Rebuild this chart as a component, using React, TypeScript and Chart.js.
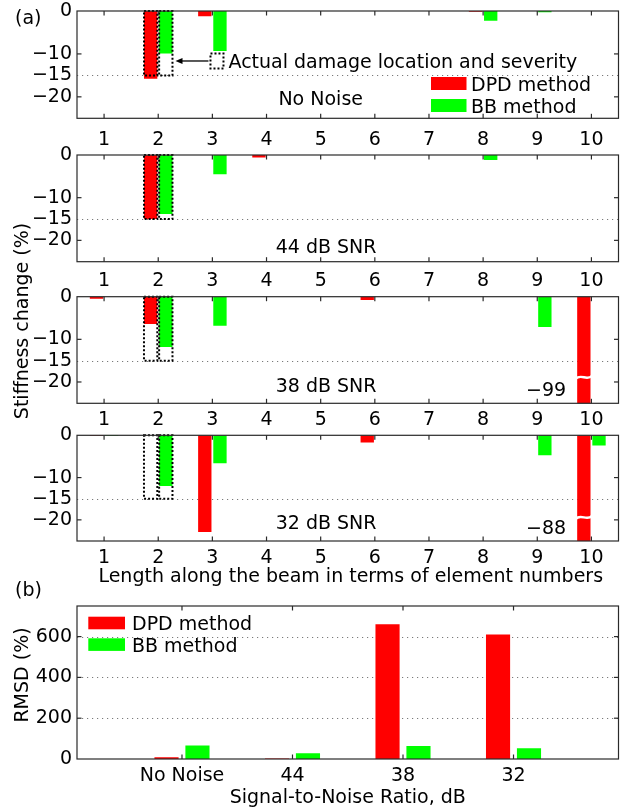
import React, { useEffect, useRef } from 'react';
import { Chart, registerables } from 'chart.js';

Chart.register(...registerables);

// ---------- data ----------
const elements = ['1', '2', '3', '4', '5', '6', '7', '8', '9', '10'];
const stiffnessTicks = [-20, -15, -10, 0];
const stiffnessGrid = [-15];

const dpdNoNoise = [0, -15.8, -1.2, 0, 0, 0, 0, -0.2, 0, 0];
const bbNoNoise = [0, -9.9, -9.3, 0, 0, 0, 0, -2.3, -0.3, 0];
const dpd44 = [0, -15, 0, -0.6, 0, 0, 0, 0, 0, 0];
const bb44 = [0, -13.8, -4.5, 0, 0, 0, 0, -1.2, 0, 0];
const dpd38 = [-0.5, -6.4, 0, 0, 0, -0.8, 0, 0, 0, -99];
const bb38 = [0, -11.8, -6.8, 0, 0, 0, 0, 0, -7.1, 0];
const dpd32 = [-0.15, 0, -22.9, 0, 0, -1.7, 0, 0, 0, -88];
const bb32 = [-0.15, -12.0, -6.6, 0, 0, 0, 0, 0, -4.7, -2.4];
const actualDamage = [0, -15, 0, 0, 0, 0, 0, 0, 0, 0];

const snrLabels = ['No Noise', '44', '38', '32'];
const rmsdDpd = [8, 3, 661, 610];
const rmsdBb = [66, 28, 64, 53];
const rmsdTicks = [0, 200, 400, 600];
const rmsdGrid = [200, 400, 600];

// ---------- layout / style ----------
const W = 621;
const H = 810;
const PLOT_LEFT = 77;
const PLOT_RIGHT = 618.5;
const XAXIS_H = 40;
const FONT = "'DejaVu Sans', sans-serif";
const FS = 19;
const RED = '#ff0000';
const GREEN = '#00ff00';

const panels = [
  { name: 'No Noise', dpd: dpdNoNoise, bb: bbNoNoise, top: 11, bottom: 118.3, labelPad: 10, nameIdx: 4.0, nameY: -22, breakAt: -19, legend: true },
  { name: '44 dB SNR', dpd: dpd44, bb: bb44, top: 155, bottom: 261.7, labelPad: 8, nameIdx: 4.1, nameY: -22.9, breakAt: -19, legend: false },
  { name: '38 dB SNR', dpd: dpd38, bb: bb38, top: 296.7, bottom: 403.3, labelPad: 5.5, nameIdx: 4.1, nameY: -22.4, breakAt: -18.9, legend: false },
  { name: '32 dB SNR', dpd: dpd32, bb: bb32, top: 435.3, bottom: 541, labelPad: 6, nameIdx: 4.1, nameY: -22.2, breakAt: -19.4, legend: false },
];

const font = (size = FS) => `${size}px ${FONT}`;
const minus = (v: number) => (v < 0 ? '\u2212' + Math.abs(v) : String(v));

function line(ctx: CanvasRenderingContext2D, x1: number, y1: number, x2: number, y2: number) {
  ctx.beginPath();
  ctx.moveTo(x1, y1);
  ctx.lineTo(x2, y2);
  ctx.stroke();
}

function drawGrid(chart: any, values: number[]) {
  const { ctx, chartArea: a, scales } = chart;
  ctx.save();
  ctx.strokeStyle = '#7a7a7a';
  ctx.lineWidth = 1;
  ctx.setLineDash([1.2, 3.8]);
  for (const v of values) {
    const py = Math.round(scales.y.getPixelForValue(v)) + 0.5;
    line(ctx, a.left, py, a.right, py);
  }
  ctx.restore();
}

function drawFrame(chart: any, skipY: number[]) {
  const { ctx, chartArea: a, scales } = chart;
  const { x, y } = scales;
  ctx.save();
  ctx.strokeStyle = '#2a2a2a';
  ctx.lineWidth = 1.2;
  ctx.strokeRect(a.left, a.top, a.right - a.left, a.bottom - a.top);
  const tl = 4.5;
  x.ticks.forEach((_t: any, i: number) => {
    const px = x.getPixelForTick(i);
    line(ctx, px, a.top, px, a.top + tl);
    line(ctx, px, a.bottom, px, a.bottom - tl);
  });
  y.ticks.forEach((t: any) => {
    if (t.value === y.min || t.value === y.max || skipY.includes(t.value)) return;
    const py = y.getPixelForValue(t.value);
    line(ctx, a.left, py, a.left + tl, py);
    line(ctx, a.right, py, a.right - tl, py);
  });
  ctx.restore();
}

function drawLegend(ctx: CanvasRenderingContext2D, left: number, top: number, pw: number, ph: number, gap: number, step: number) {
  const items = [
    { label: 'DPD method', color: RED },
    { label: 'BB method', color: GREEN },
  ];
  ctx.save();
  ctx.font = font();
  ctx.textAlign = 'left';
  ctx.textBaseline = 'alphabetic';
  items.forEach((it, k) => {
    const ty = top + k * step;
    ctx.fillStyle = it.color;
    ctx.fillRect(left, ty, pw, ph);
    ctx.fillStyle = '#000';
    ctx.fillText(it.label, left + pw + gap, ty + ph + 0.7);
  });
  ctx.restore();
}

function dottedRect(ctx: CanvasRenderingContext2D, x: number, y: number, w: number, h: number) {
  ctx.save();
  ctx.strokeStyle = '#000';
  ctx.lineWidth = 2;
  ctx.setLineDash([2, 2]);
  ctx.strokeRect(x, y, w, h);
  ctx.restore();
}

function makeStiffnessChart(canvas: HTMLCanvasElement, p: any, index: number) {
  const panelPlugin = {
    id: 'panelDecor' + index,
    beforeDatasetsDraw(chart: any) {
      drawGrid(chart, stiffnessGrid);
    },
    afterDatasetsDraw(chart: any) {
      const { ctx, chartArea: a, scales } = chart;
      const { x, y } = scales;
      // actual damage boxes
      [0, 1].forEach((di) => {
        const meta = chart.getDatasetMeta(di);
        actualDamage.forEach((v, i) => {
          if (v === 0) return;
          const el = meta.data[i];
          const y0 = y.getPixelForValue(0);
          const y1 = y.getPixelForValue(v);
          dottedRect(ctx, el.x - el.width / 2, y0, el.width, y1 - y0);
        });
      });
      // broken (off-scale) bars
      [0, 1].forEach((di) => {
        const meta = chart.getDatasetMeta(di);
        const vals = chart.data.datasets[di].data as number[];
        vals.forEach((v, i) => {
          if (v >= y.min) return;
          const el = meta.data[i];
          const py = y.getPixelForValue(p.breakAt);
          const l = el.x - el.width / 2 - 1.5;
          const r = el.x + el.width / 2 + 1.5;
          ctx.save();
          ctx.strokeStyle = '#fff';
          ctx.lineWidth = 2.4;
          ctx.beginPath();
          ctx.moveTo(l, py + 1.5);
          ctx.bezierCurveTo(el.x - 3, py - 4, el.x + 3, py + 4, r, py - 1.5);
          ctx.stroke();
          ctx.fillStyle = '#000';
          ctx.font = font();
          ctx.textAlign = 'right';
          ctx.textBaseline = 'alphabetic';
          ctx.fillText(minus(v), el.x - el.width / 2 - 11, a.bottom - 7);
          ctx.restore();
        });
      });
      // panel name
      ctx.save();
      ctx.fillStyle = '#000';
      ctx.font = font();
      ctx.textAlign = 'center';
      ctx.textBaseline = 'alphabetic';
      ctx.fillText(p.name, x.getPixelForValue(p.nameIdx), y.getPixelForValue(p.nameY));
      ctx.restore();

      if (p.legend) {
        drawLegend(ctx, a.right - 187.5, a.top + 66, 35.5, 13, 4.5, 22);
        // annotation for actual damage
        const bbMeta = chart.getDatasetMeta(1);
        const idx = actualDamage.findIndex((v) => v !== 0);
        const el = bbMeta.data[idx];
        const tip = el.x + el.width / 2 + 3;
        const iconTop = y.getPixelForValue(-9.9);
        const iconH = 15;
        const ay = iconTop + iconH / 2;
        const tail = tip + 33;
        ctx.save();
        ctx.strokeStyle = '#000';
        ctx.fillStyle = '#000';
        ctx.lineWidth = 1.3;
        line(ctx, tail, ay, tip + 5, ay);
        ctx.beginPath();
        ctx.moveTo(tip, ay);
        ctx.lineTo(tip + 7, ay - 3);
        ctx.lineTo(tip + 7, ay + 3);
        ctx.closePath();
        ctx.fill();
        ctx.restore();
        dottedRect(ctx, tail + 2, iconTop, 13, iconH);
        ctx.save();
        ctx.fillStyle = '#000';
        ctx.font = font();
        ctx.textAlign = 'left';
        ctx.textBaseline = 'alphabetic';
        ctx.fillText('Actual damage location and severity', tail + 20, iconTop + iconH);
        ctx.restore();
      }
    },
    afterDraw(chart: any) {
      drawFrame(chart, stiffnessGrid);
      if (index === panels.length - 1) {
        const { ctx, chartArea: a } = chart;
        ctx.save();
        ctx.fillStyle = '#000';
        ctx.font = font();
        ctx.textBaseline = 'alphabetic';
        ctx.textAlign = 'left';
        ctx.fillText('(a)', 15, 24.3);
        ctx.textAlign = 'center';
        ctx.fillText('Length along the beam in terms of element numbers', (a.left + a.right) / 2 + 3, 582);
        ctx.translate(28, 321);
        ctx.rotate(-Math.PI / 2);
        ctx.fillText('Stiffness change (%)', 0, 0);
        ctx.restore();
      }
    },
  };

  return new Chart(canvas, {
    type: 'bar',
    data: {
      labels: elements,
      datasets: [
        { label: 'DPD method', data: p.dpd, backgroundColor: RED, borderWidth: 0, categoryPercentage: 0.56, barPercentage: 0.88 },
        { label: 'BB method', data: p.bb, backgroundColor: GREEN, borderWidth: 0, categoryPercentage: 0.56, barPercentage: 0.88 },
      ],
    },
    options: {
      responsive: false,
      animation: false,
      events: [],
      layout: { padding: { top: p.top, left: 0, right: W - PLOT_RIGHT, bottom: H - p.bottom - XAXIS_H } },
      plugins: { legend: { display: false }, tooltip: { enabled: false } },
      scales: {
        x: {
          type: 'category',
          offset: true,
          grid: { display: false, drawTicks: false },
          border: { display: false },
          ticks: { padding: p.labelPad, maxRotation: 0, autoSkip: false, color: '#000', font: { family: FONT, size: FS } },
          afterFit: (s: any) => {
            s.height = XAXIS_H;
            s.paddingLeft = 0;
            s.paddingRight = 0;
          },
        },
        y: {
          min: -25,
          max: 0,
          grid: { display: false, drawTicks: false },
          border: { display: false },
          afterBuildTicks: (s: any) => {
            s.ticks = stiffnessTicks.map((v) => ({ value: v }));
          },
          ticks: { padding: 5, color: '#000', font: { family: FONT, size: FS }, callback: (v: any) => minus(Number(v)) },
          afterFit: (s: any) => {
            s.width = PLOT_LEFT;
            s.paddingTop = 0;
            s.paddingBottom = 0;
          },
        },
      },
    } as any,
    plugins: [panelPlugin],
  });
}

function makeRmsdChart(canvas: HTMLCanvasElement) {
  const top = 606;
  const bottom = 759;
  const plugin = {
    id: 'rmsdDecor',
    beforeDatasetsDraw(chart: any) {
      drawGrid(chart, rmsdGrid);
    },
    afterDraw(chart: any) {
      const { ctx, chartArea: a } = chart;
      drawFrame(chart, []);
      drawLegend(ctx, a.left + 11.3, a.top + 10.7, 36.7, 12.6, 7, 21.6);
      ctx.save();
      ctx.fillStyle = '#000';
      ctx.font = font();
      ctx.textBaseline = 'alphabetic';
      ctx.textAlign = 'left';
      ctx.fillText('(b)', 15, 596);
      ctx.textAlign = 'center';
      ctx.fillText('Signal-to-Noise Ratio, dB', (a.left + a.right) / 2, 803);
      ctx.translate(28, 675);
      ctx.rotate(-Math.PI / 2);
      ctx.fillText('RMSD (%)', 0, 0);
      ctx.restore();
    },
  };
  return new Chart(canvas, {
    type: 'bar',
    data: {
      datasets: [
        { label: 'DPD method', data: rmsdDpd.map((v, i) => ({ x: i + 1, y: v })), backgroundColor: RED, borderWidth: 0, categoryPercentage: 0.56, barPercentage: 0.78 },
        { label: 'BB method', data: rmsdBb.map((v, i) => ({ x: i + 1, y: v })), backgroundColor: GREEN, borderWidth: 0, categoryPercentage: 0.56, barPercentage: 0.78 },
      ],
    },
    options: {
      responsive: false,
      animation: false,
      events: [],
      layout: { padding: { top, left: 0, right: W - PLOT_RIGHT, bottom: H - bottom - XAXIS_H } },
      plugins: { legend: { display: false }, tooltip: { enabled: false } },
      scales: {
        x: {
          type: 'linear',
          min: 0.05,
          max: 4.95,
          offset: false,
          grid: { display: false, drawTicks: false },
          border: { display: false },
          afterBuildTicks: (s: any) => {
            s.ticks = snrLabels.map((_l, i) => ({ value: i + 1 }));
          },
          ticks: {
            padding: 5.3,
            maxRotation: 0,
            autoSkip: false,
            color: '#000',
            font: { family: FONT, size: FS },
            callback: (v: any) => snrLabels[Math.round(Number(v)) - 1] ?? '',
          },
          afterFit: (s: any) => {
            s.height = XAXIS_H;
            s.paddingLeft = 0;
            s.paddingRight = 0;
          },
        },
        y: {
          min: 0,
          max: 750,
          grid: { display: false, drawTicks: false },
          border: { display: false },
          afterBuildTicks: (s: any) => {
            s.ticks = rmsdTicks.map((v) => ({ value: v }));
          },
          ticks: { padding: 5, color: '#000', font: { family: FONT, size: FS } },
          afterFit: (s: any) => {
            s.width = PLOT_LEFT;
            s.paddingTop = 0;
            s.paddingBottom = 0;
          },
        },
      },
    } as any,
    plugins: [plugin],
  });
}

export default function App() {
  const refs = useRef<(HTMLCanvasElement | null)[]>([]);
  useEffect(() => {
    const charts: Chart[] = [];
    panels.forEach((p, i) => {
      const c = refs.current[i];
      if (c) charts.push(makeStiffnessChart(c, p, i));
    });
    const cb = refs.current[panels.length];
    if (cb) charts.push(makeRmsdChart(cb));
    return () => charts.forEach((c) => c.destroy());
  }, []);
  const ids = [0, 1, 2, 3, 4];
  return (
    <div style={{ position: 'absolute', left: 0, top: 0, width: W, height: H, background: '#fff' }}>
      {ids.map((i) => (
        <canvas
          key={i}
          ref={(el) => {
            refs.current[i] = el;
          }}
          width={W}
          height={H}
          style={{ position: 'absolute', left: 0, top: 0, width: W, height: H }}
        />
      ))}
    </div>
  );
}
